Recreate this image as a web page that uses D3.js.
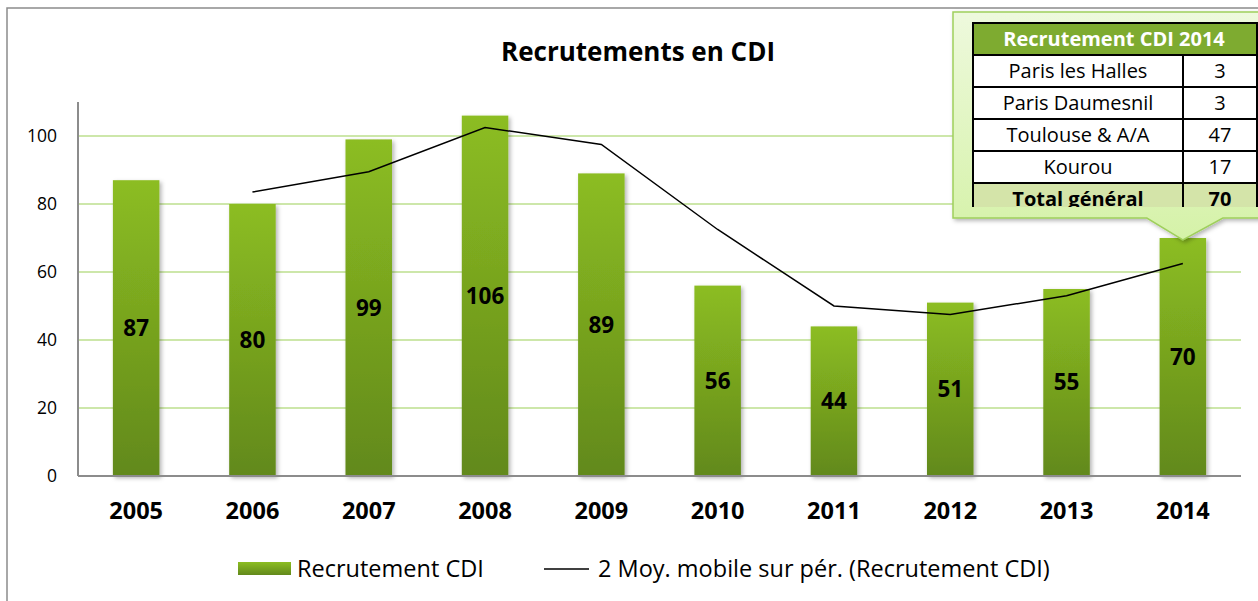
<!DOCTYPE html>
<html>
<head>
<meta charset="utf-8">
<script src="https://cdn.jsdelivr.net/npm/d3@7"></script>
<style>
  body { margin: 0; background: #fff; }
  svg { font-family: "Open Sans", sans-serif; }
</style>
</head>
<body>
<svg id="chart" width="1258" height="601"></svg>
<script>
var years = ['2005', '2006', '2007', '2008', '2009', '2010', '2011', '2012', '2013', '2014'];
var recrutements = [87, 80, 99, 106, 89, 56, 44, 51, 55, 70];
// moyenne mobile (pas de point pour 2005)
var moyenneMobile = [null, 83.5, 89.5, 102.5, 97.5, 72.5, 50, 47.5, 53, 62.5];
var yTicks = [0, 20, 40, 60, 80, 100];
var sites = ['Paris les Halles', 'Paris Daumesnil', 'Toulouse & A/A', 'Kourou'];
var sitesCDI = [3, 3, 47, 17];
var totalLabel = 'Total général';
var totalCDI = 70;

(function(){
    var svg = d3.select('#chart'),
        left = 78, right = 1241, top = 102, bottom = 476,
        font = '"Open Sans", sans-serif';

    var defs = svg.append('defs');
    var grad = defs.append('linearGradient')
        .attr('id', 'barGrad').attr('x1', 0).attr('y1', 0).attr('x2', 0).attr('y2', 1);
    grad.append('stop').attr('offset', '0%').attr('stop-color', '#8cbd22');
    grad.append('stop').attr('offset', '100%').attr('stop-color', '#62891b');

    var calloutGrad = defs.append('linearGradient')
        .attr('id', 'calloutGrad').attr('x1', 0).attr('y1', 0).attr('x2', 0).attr('y2', 1);
    calloutGrad.append('stop').attr('offset', '0%').attr('stop-color', '#eef9dd');
    calloutGrad.append('stop').attr('offset', '100%').attr('stop-color', '#d5f2a8');

    var shadow = defs.append('filter').attr('id', 'shadow')
        .attr('x', '-10%').attr('y', '-10%').attr('width', '130%').attr('height', '130%');
    shadow.append('feDropShadow').attr('dx', 2).attr('dy', 2)
        .attr('stdDeviation', 2).attr('flood-color', '#000').attr('flood-opacity', 0.3);

    defs.append('clipPath').attr('id', 'tableClip')
        .append('rect').attr('x', 960).attr('y', 15).attr('width', 298).attr('height', 192);

    // cadre du graphique
    svg.append('path')
        .attr('d', 'M7,601 V8 H1258')
        .attr('fill', 'none')
        .attr('stroke', '#8c8c8c')
        .attr('stroke-width', 1.5);

    var x = d3.scaleBand()
        .domain(years)
        .range([left, right])
        .paddingInner(0.6)
        .paddingOuter(0.3);

    var y = d3.scaleLinear()
        .domain([0, 110])
        .range([bottom, top]);

    // grille
    svg.append('g')
        .selectAll('line')
        .data(yTicks.filter(function(d) { return d > 0; }))
        .enter().append('line')
        .attr('x1', left).attr('x2', right)
        .attr('y1', function(d) { return y(d); })
        .attr('y2', function(d) { return y(d); })
        .attr('stroke', '#bcdf8e')
        .attr('stroke-width', 1.5);

    // axe Y
    var yAxis = svg.append('g')
        .attr('transform', 'translate(' + left + ',0)')
        .call(d3.axisLeft(y).tickValues(yTicks).tickSize(0).tickPadding(21));
    yAxis.select('.domain').attr('stroke', '#8c8c8c').attr('stroke-width', 2)
        .attr('d', 'M0,' + top + 'V' + bottom);
    yAxis.selectAll('text')
        .attr('font-size', 17.5)
        .attr('fill', '#000')
        .attr('font-family', font);

    // barres
    svg.append('g')
        .selectAll('rect')
        .data(recrutements)
        .enter().append('rect')
        .attr('x', function(d, i) { return x(years[i]); })
        .attr('y', function(d) { return y(d); })
        .attr('width', x.bandwidth())
        .attr('height', function(d) { return y(0) - y(d); })
        .attr('fill', 'url(#barGrad)')
        .attr('filter', 'url(#shadow)');

    // axe X
    var xAxis = svg.append('g')
        .attr('transform', 'translate(0,' + bottom + ')')
        .call(d3.axisBottom(x).tickSize(0).tickPadding(26));
    xAxis.select('.domain').attr('stroke', '#8c8c8c').attr('stroke-width', 2)
        .attr('d', 'M' + left + ',0H' + right);
    xAxis.selectAll('text')
        .attr('font-size', 23.5)
        .attr('font-weight', 'bold')
        .attr('fill', '#000')
        .attr('font-family', font);

    // étiquettes de valeurs
    svg.append('g')
        .selectAll('text')
        .data(recrutements)
        .enter().append('text')
        .attr('x', function(d, i) { return x(years[i]) + x.bandwidth() / 2; })
        .attr('y', function(d) { return y(d / 2); })
        .attr('dy', '0.35em')
        .attr('text-anchor', 'middle')
        .attr('font-size', 22.5)
        .attr('font-weight', 'bold')
        .text(function(d) { return d; });

    // moyenne mobile
    var line = d3.line()
        .defined(function(d) { return d != null; })
        .x(function(d, i) { return x(years[i]) + x.bandwidth() / 2; })
        .y(function(d) { return y(d); });

    svg.append('path')
        .datum(moyenneMobile)
        .attr('d', line)
        .attr('fill', 'none')
        .attr('stroke', '#000')
        .attr('stroke-width', 1.5);

    // titre
    svg.append('text')
        .attr('x', 638).attr('y', 61)
        .attr('text-anchor', 'middle')
        .attr('font-size', 26)
        .attr('font-weight', 'bold')
        .text('Recrutements en CDI');

    // légende
    var legend = svg.append('g');
    legend.append('rect')
        .attr('x', 238).attr('y', 562).attr('width', 53).attr('height', 13)
        .attr('fill', 'url(#barGrad)');
    legend.append('text')
        .attr('x', 297).attr('y', 569).attr('dy', '0.35em')
        .attr('font-size', 23.5)
        .text('Recrutement CDI');
    legend.append('line')
        .attr('x1', 544).attr('x2', 589).attr('y1', 569).attr('y2', 569)
        .attr('stroke', '#000').attr('stroke-width', 1.5);
    legend.append('text')
        .attr('x', 598).attr('y', 569).attr('dy', '0.35em')
        .attr('font-size', 23.5)
        .text('2 Moy. mobile sur pér. (Recrutement CDI)');

    // bulle avec le tableau 2014
    var cx = x('2014') + x.bandwidth() / 2;
    var cTop = 12, cBottom = 218, cLeft = 953, cRight = 1262;
    svg.append('path')
        .attr('d', 'M' + cLeft + ',' + cTop + 'H' + cRight + 'V' + cBottom +
            'H' + (cx + 40) + 'L' + cx + ',' + (cBottom + 22) + 'L' + (cx - 36) + ',' + cBottom +
            'H' + cLeft + 'Z')
        .attr('fill', 'url(#calloutGrad)')
        .attr('stroke', '#9fcf5c')
        .attr('stroke-width', 1.5)
        .attr('filter', 'url(#shadow)');

    var table = svg.append('g').attr('clip-path', 'url(#tableClip)');
    var tLeft = 973, tRight = 1257, tMid = 1183, rowH = 32, tTop = 23;

    table.append('rect')
        .attr('x', tLeft).attr('y', tTop).attr('width', tRight - tLeft).attr('height', rowH)
        .attr('fill', '#7eab30');
    table.append('text')
        .attr('x', (tLeft + tRight) / 2 - 1).attr('y', tTop + rowH / 2).attr('dy', '0.35em')
        .attr('text-anchor', 'middle')
        .attr('font-size', 20).attr('font-weight', 'bold').attr('fill', '#fff')
        .text('Recrutement CDI 2014');

    var rows = sites.map(function(s, i) { return [s, sitesCDI[i], false]; });
    rows.push([totalLabel, totalCDI, true]);

    var row = table.selectAll('g.row')
        .data(rows)
        .enter().append('g')
        .attr('class', 'row')
        .attr('transform', function(d, i) { return 'translate(0,' + (tTop + rowH * (i + 1)) + ')'; });

    row.append('rect')
        .attr('x', tLeft).attr('width', tRight - tLeft).attr('height', rowH)
        .attr('fill', function(d) { return d[2] ? '#d4e4a9' : '#fff'; })
        .attr('stroke', '#000').attr('stroke-width', 2);
    row.append('line')
        .attr('x1', tMid).attr('x2', tMid).attr('y1', 0).attr('y2', rowH)
        .attr('stroke', '#000').attr('stroke-width', 2);
    row.append('text')
        .attr('x', (tLeft + tMid) / 2).attr('y', rowH / 2).attr('dy', '0.35em')
        .attr('text-anchor', 'middle')
        .attr('font-size', 20)
        .attr('font-weight', function(d) { return d[2] ? 'bold' : 'normal'; })
        .text(function(d) { return d[0]; });
    row.append('text')
        .attr('x', (tMid + tRight) / 2).attr('y', rowH / 2).attr('dy', '0.35em')
        .attr('text-anchor', 'middle')
        .attr('font-size', 20)
        .attr('font-weight', function(d) { return d[2] ? 'bold' : 'normal'; })
        .text(function(d) { return d[1]; });

    table.append('rect')
        .attr('x', tLeft).attr('y', tTop).attr('width', tRight - tLeft).attr('height', rowH * 6)
        .attr('fill', 'none').attr('stroke', '#000').attr('stroke-width', 2);
})();
</script>
</body>
</html>
